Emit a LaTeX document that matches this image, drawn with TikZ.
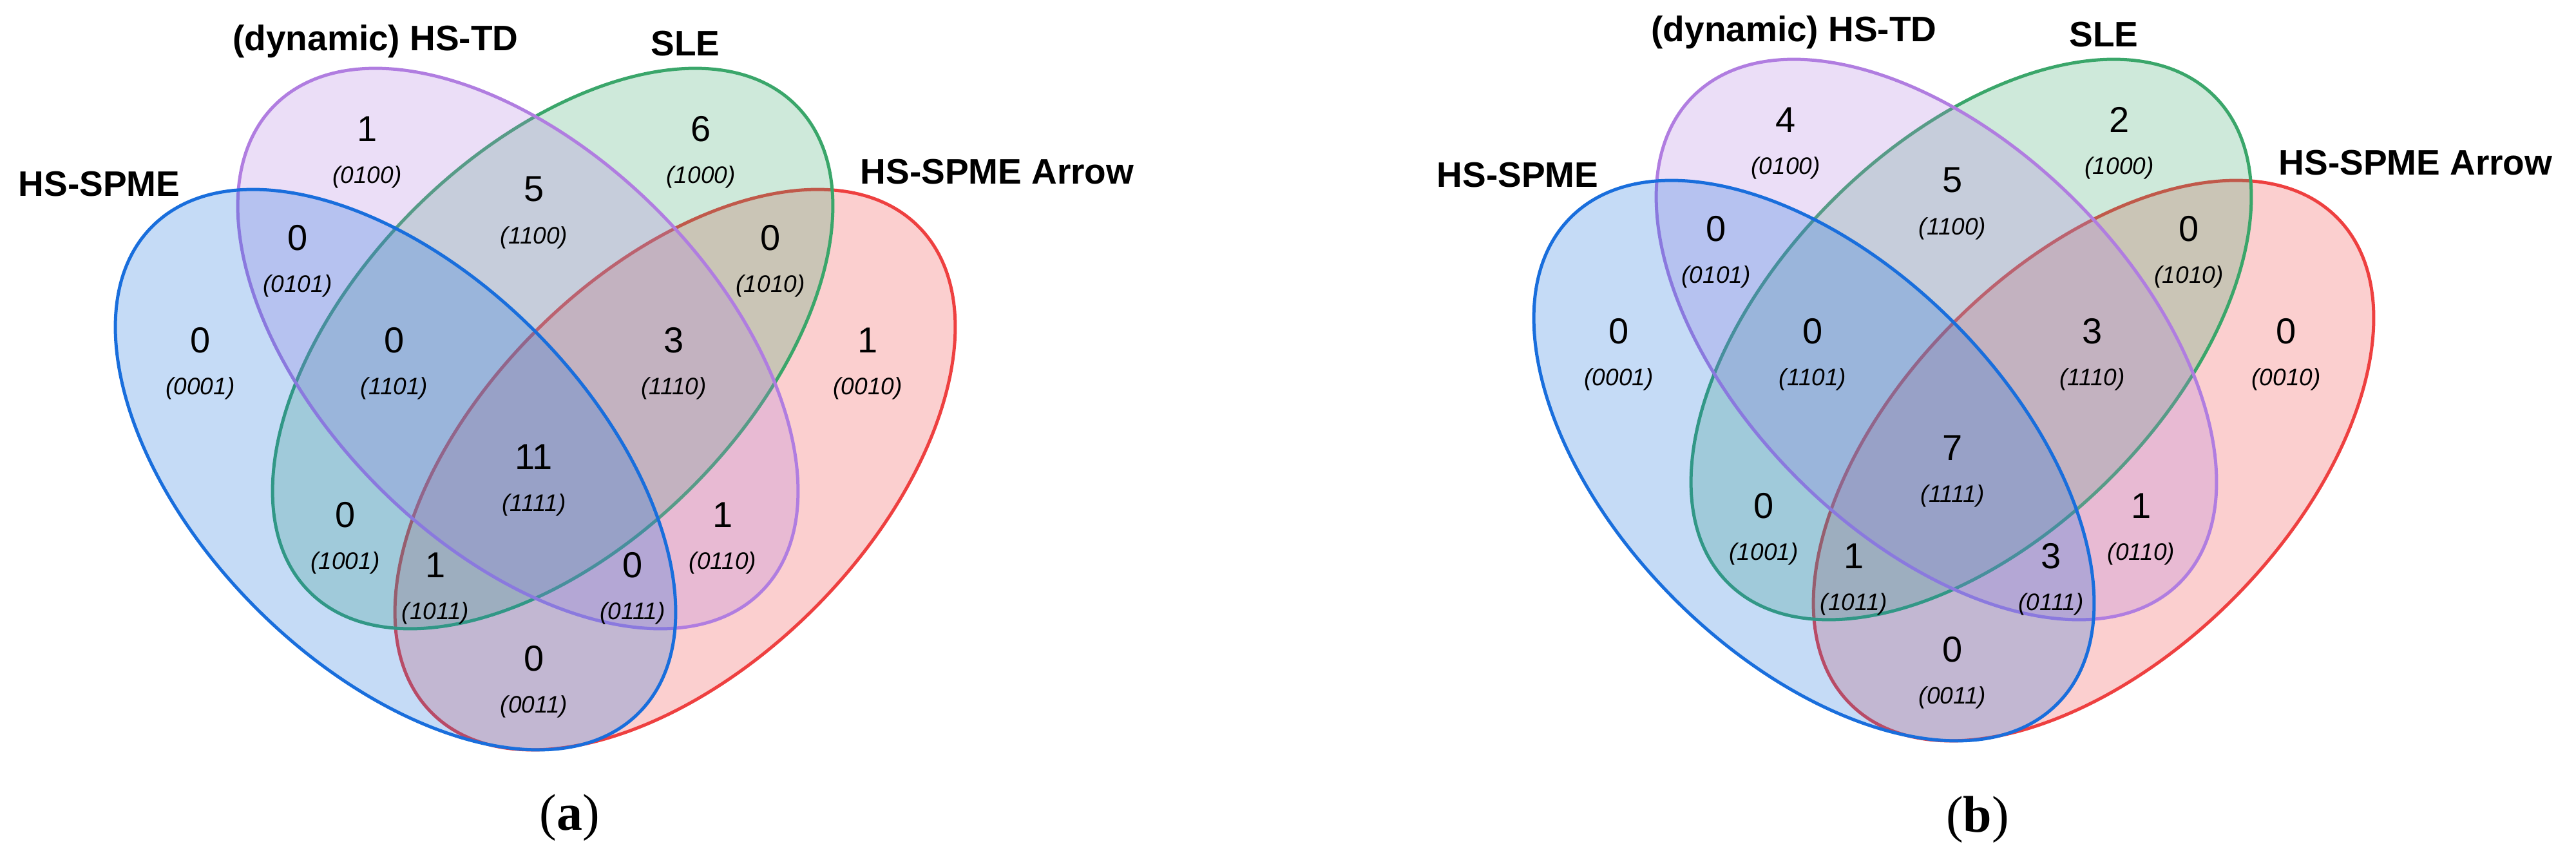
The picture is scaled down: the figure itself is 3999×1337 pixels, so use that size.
\documentclass[tikz,border=0pt]{standalone}
\usepackage{fontspec}
\setmainfont{Liberation Sans}
\newfontfamily\serifcap{Liberation Serif}
\definecolor{vblue}{RGB}{25,110,220}
\definecolor{vpurple}{RGB}{176,125,224}
\definecolor{vgreen}{RGB}{58,166,106}
\definecolor{vred}{RGB}{238,64,64}
\tikzset{
  vset/.style={line width=1.25pt, fill opacity=0.25},
  num/.style={font=\fontsize{14}{14}\selectfont, inner sep=0pt},
  code/.style={font=\fontsize{9.25}{9.25}\selectfont\itshape, inner sep=0pt},
  lab/.style={font=\fontsize{13.75}{14}\selectfont\bfseries, inner sep=0pt},
  captxt/.style={font=\fontsize{20}{20}\selectfont\serifcap, inner sep=0pt}
}
\newcommand{\vennsets}{%
  \draw[vset, draw=vred, fill=vred, rotate around={45:(1048,-729)}] (1048,-729) ellipse [x radius=133.5pt, y radius=76.25pt];
  \draw[vset, draw=vgreen, fill=vgreen, rotate around={45:(858,-541)}] (858,-541) ellipse [x radius=133.5pt, y radius=76.25pt];
  \draw[vset, draw=vpurple, fill=vpurple, rotate around={-45:(804,-541)}] (804,-541) ellipse [x radius=133.5pt, y radius=76.25pt];
  \draw[vset, draw=vblue, fill=vblue, rotate around={-45:(614,-729)}] (614,-729) ellipse [x radius=133.5pt, y radius=76.25pt];
}
\begin{document}
\begin{tikzpicture}[x=0.25pt, y=0.25pt]
\useasboundingbox (0,0) rectangle (3999,-1337);
% ---------- panel (a) ----------
\begin{scope}
  \vennsets
  \node[lab] (aL1) at (154,-286) {HS-SPME};
  \node[lab] (aL2) at (583,-64) {(dynamic) HS-TD};
  \node[lab] (aL3) at (1064,-68) {SLE};
  \node[lab] (aL4) at (1548,-267) {HS-SPME Arrow};
  \foreach \nm/\px/\py/\num in {0100/-259/200/1, 1000/259/200/6, 1100/0/294/5,
      0101/-367/369/0, 1010/367/369/0, 0001/-518/528/0, 1101/-217/528/0,
      1110/217/528/3, 0010/518/528/1, 1111/0/709/11, 1001/-293/799/0,
      0110/293/799/1, 1011/-153/877/1, 0111/153/877/0, 0011/0/1022/0}{
    \node[num] (an\nm) at ({829+\px},{-\py}) {\num};
    \node[code] (ac\nm) at ({829+\px},{-\py-74.5}) {(\nm)};
  }
\end{scope}
% ---------- panel (b) ----------
\begin{scope}[shift={(2202,14)}]
  \vennsets
  \node[lab] (bL1) at (154,-286) {HS-SPME};
  \node[lab] (bL2) at (583,-64) {(dynamic) HS-TD};
  \node[lab] (bL3) at (1064,-68) {SLE};
  \node[lab] (bL4) at (1548,-267) {HS-SPME Arrow};
  \foreach \nm/\px/\py/\num in {0100/-259/200/4, 1000/259/200/2, 1100/0/294/5,
      0101/-367/369/0, 1010/367/369/0, 0001/-518/528/0, 1101/-217/528/0,
      1110/217/528/3, 0010/518/528/0, 1111/0/709/7, 1001/-293/799/0,
      0110/293/799/1, 1011/-153/877/1, 0111/153/877/3, 0011/0/1022/0}{
    \node[num] (bn\nm) at ({829+\px},{-\py}) {\num};
    \node[code] (bc\nm) at ({829+\px},{-\py-74.5}) {(\nm)};
  }
\end{scope}
\node[captxt] (capa) at (884,-1269) {(\textbf{a})};
\node[captxt] (capb) at (3070,-1272) {(\textbf{b})};
\end{tikzpicture}
\end{document}
